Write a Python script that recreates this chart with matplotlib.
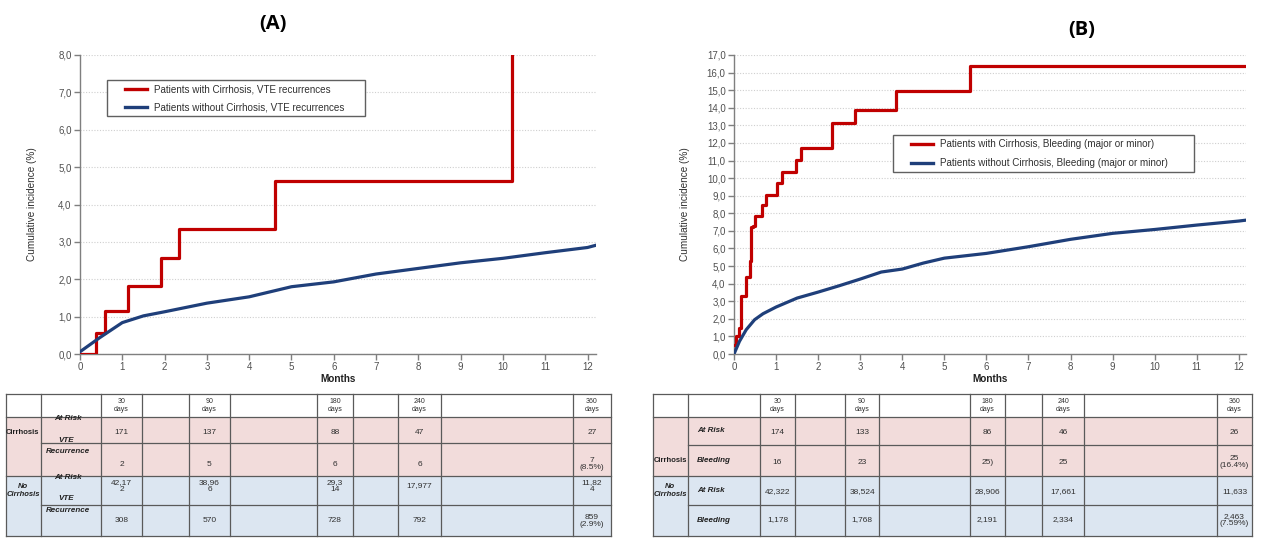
import matplotlib
matplotlib.use("Agg")
import matplotlib.pyplot as plt
from matplotlib.patches import Rectangle
from matplotlib.lines import Line2D
from matplotlib.ticker import FuncFormatter, MultipleLocator

plt.rcParams['font.family'] = ['Liberation Sans', 'DejaVu Sans']

W, H = 1262, 538

# ---------------- data ----------------
# Panel A: VTE recurrences
a_red_t = [0, 0.38, 0.59, 1.14, 1.92, 2.35, 4.62, 10.22]
a_red_v = [0, 0.57, 1.16, 1.82, 2.58, 3.34, 4.64, 8.0]
a_blue_t = [0, 0.47, 1, 1.5, 2, 3, 4, 5, 6, 7, 8, 9, 10, 11, 12, 12.2]
a_blue_v = [0.06, 0.44, 0.84, 1.02, 1.13, 1.36, 1.53, 1.80, 1.93, 2.14, 2.29, 2.44, 2.56, 2.71, 2.85, 2.91]
a_labels = ["Patients with Cirrhosis, VTE recurrences",
            "Patients without Cirrhosis, VTE recurrences"]

# Panel B: Bleeding
b_red_t = [0, 0.05, 0.13, 0.17, 0.29, 0.37, 0.41, 0.45, 0.49, 0.67, 0.77, 1.03, 1.15,
           1.48, 1.60, 2.33, 2.87, 3.84, 5.62, 12.17]
b_red_v = [0.5, 1.0, 1.5, 3.3, 4.4, 5.3, 7.2, 7.3, 7.85, 8.5, 9.05, 9.7, 10.35,
           11.05, 11.7, 13.15, 13.9, 14.95, 16.4, 16.4]
b_blue_t = [0, 0.13, 0.29, 0.49, 0.69, 1.0, 1.5, 2.0, 2.5, 3.0, 3.5, 4.0, 4.5, 5.0,
            6, 7, 8, 9, 10, 11, 12, 12.17]
b_blue_v = [0.0, 0.72, 1.38, 1.95, 2.29, 2.67, 3.18, 3.52, 3.88, 4.26, 4.66, 4.83, 5.17, 5.45,
            5.72, 6.10, 6.52, 6.86, 7.08, 7.33, 7.56, 7.61]
b_labels = ["Patients with Cirrhosis, Bleeding (major or minor)",
            "Patients without Cirrhosis, Bleeding (major or minor)"]

# Tables
day_headers = ["30\ndays", "90\ndays", "180\ndays", "240\ndays", "360\ndays"]
a_table = [["171", "137", "88", "47", "27"],
           ["2", "5", "6", "6", "7\n(8.5%)"],
           ["42,17\n2", "38,96\n6", "29,3\n14", "17,977", "11,82\n4"],
           ["308", "570", "728", "792", "859\n(2.9%)"]]
b_table = [["174", "133", "86", "46", "26"],
           ["16", "23", "25)", "25", "25\n(16.4%)"],
           ["42,322", "38,524", "28,906", "17,661", "11,633"],
           ["1,178", "1,768", "2,191", "2,334", "2,463\n(7.59%)"]]
group_labels = ["Cirrhosis", "No\nCirrhosis"]

RED = "#c00000"
BLUE = "#1f3f7a"
GRAY = "#7f7f7f"

fig = plt.figure(figsize=(W / 100, H / 100), dpi=100)


def px_axes(l, t, r, b):
    return fig.add_axes([l / W, 1 - b / H, (r - l) / W, (b - t) / H])


def style_axes(ax, xmax, ymax, ystep):
    ax.set_xlim(0, xmax)
    ax.set_ylim(0, ymax)
    for s in ["top", "right"]:
        ax.spines[s].set_visible(False)
    for s in ["left", "bottom"]:
        ax.spines[s].set_color(GRAY)
        ax.spines[s].set_linewidth(1.0)
    ax.xaxis.set_major_locator(MultipleLocator(1))
    ax.yaxis.set_major_locator(MultipleLocator(ystep))
    ax.yaxis.set_major_formatter(FuncFormatter(lambda v, p: f"{v:.1f}".replace(".", ",")))
    ax.tick_params(axis="both", direction="out", length=4, width=1, color=GRAY,
                   labelsize=7, labelcolor="#505050", pad=2)
    ax.grid(axis="y", color="#cfcfcf", linestyle=(0, (1, 1.5)), linewidth=0.8)
    ax.set_axisbelow(True)
    ax.set_xlabel("Months", fontsize=7.2, fontweight="bold", color="#202020", labelpad=1)
    ax.set_ylabel("Cumulative incidence (%)", fontsize=7.2, color="#303030")


def manual_legend(x0, y0, x1, y1, labels, colors):
    axl = fig.add_axes([0, 0, 1, 1], facecolor="none")
    axl.set_xlim(0, W)
    axl.set_ylim(H, 0)
    axl.axis("off")
    axl.add_patch(Rectangle((x0, y0), x1 - x0, y1 - y0, facecolor="white",
                            edgecolor="#606060", linewidth=1.0))
    n = len(labels)
    step = (y1 - y0) / n
    for i, (lab, c) in enumerate(zip(labels, colors)):
        yy = y0 + step * (i + 0.5)
        axl.add_line(Line2D([x0 + 18, x0 + 40], [yy, yy], color=c, linewidth=2.4))
        axl.text(x0 + 47, yy, lab, fontsize=7.1, color="#303030", va="center", ha="left")


# ---------------- Panel A ----------------
axA = px_axes(80, 55, 596, 354)
axA.plot(a_red_t, a_red_v, drawstyle="steps-post", color=RED, linewidth=2.3, zorder=3)
axA.plot(a_blue_t, a_blue_v, color=BLUE, linewidth=2.3, zorder=3)
style_axes(axA, 12.2, 8.0, 1.0)
axA.yaxis.set_label_coords(-0.083, 0.5)
manual_legend(107, 80, 365, 116, a_labels, [RED, BLUE])

# ---------------- Panel B ----------------
axB = px_axes(734, 55, 1246, 354)
axB.plot(b_red_t, b_red_v, drawstyle="steps-post", color=RED, linewidth=2.3, zorder=3)
axB.plot(b_blue_t, b_blue_v, color=BLUE, linewidth=2.3, zorder=3)
style_axes(axB, 12.17, 17.0, 1.0)
axB.yaxis.set_label_coords(-0.085, 0.5)
manual_legend(893, 135, 1194, 172, b_labels, [RED, BLUE])

fig.text(273 / W, 1 - 24 / H, "(A)", fontsize=14.5, fontweight="bold", ha="center", va="center",
         family=["Open Sans", "DejaVu Sans"])
fig.text(1082 / W, 1 - 30 / H, "(B)", fontsize=14.5, fontweight="bold", ha="center", va="center",
         family=["Open Sans", "DejaVu Sans"])

# ---------------- Tables ----------------
axT = fig.add_axes([0, 0, 1, 1], facecolor="none")
axT.set_xlim(0, W)
axT.set_ylim(H, 0)
axT.axis("off")

PINK = "#f2dcdb"
LBLUE = "#dce6f1"
LINE = "#5a5a5a"


def draw_table(cols, rows, values, sub_labels, sub_ha, val_y, group_y, group_x):
    x0, x1 = cols[0], cols[-1]
    axT.add_patch(Rectangle((x0, rows[1]), x1 - x0, rows[3] - rows[1], facecolor=PINK, edgecolor="none"))
    axT.add_patch(Rectangle((x0, rows[3]), x1 - x0, rows[5] - rows[3], facecolor=LBLUE, edgecolor="none"))
    for y in [rows[0], rows[1], rows[3], rows[5]]:
        axT.add_line(Line2D([x0, x1], [y, y], color=LINE, linewidth=0.9))
    for y in [rows[2], rows[4]]:
        axT.add_line(Line2D([cols[1], x1], [y, y], color=LINE, linewidth=0.9))
    for x in cols:
        axT.add_line(Line2D([x, x], [rows[0], rows[5]], color=LINE, linewidth=0.9))
    data_cols = [2, 4, 6, 8, 10]
    hy = (rows[0] + rows[1]) / 2
    for j, ci in enumerate(data_cols):
        xc = (cols[ci] + cols[ci + 1]) / 2
        axT.text(xc, hy, day_headers[j], fontsize=5.0, ha="center", va="center",
                 color="#303030", linespacing=1.1)
        for i in range(4):
            axT.text(xc, val_y[i], values[i][j], fontsize=6.0, ha="center", va="center",
                     color="#303030", linespacing=1.05)
    for (txt, x, y) in sub_labels:
        axT.text(x, y, txt, fontsize=5.8, ha=sub_ha, va="center",
                 fontweight="bold", fontstyle="italic", color="#202020")
    axT.text(group_x, group_y[0], group_labels[0], fontsize=5.5, ha="center", va="center",
             fontweight="bold", color="#202020")
    axT.text(group_x, group_y[1], group_labels[1], fontsize=5.5, ha="center", va="center",
             fontweight="bold", fontstyle="italic", color="#202020", linespacing=1.2)


a_cols = [6, 41, 101, 142, 189, 230, 317, 353, 398, 441, 573, 611]
a_rows = [394, 417, 443, 476, 505, 536]
a_sub = [("At Risk", 68, 418), ("VTE", 66, 440), ("Recurrence", 68, 451.5),
         ("At Risk", 68, 477.5), ("VTE", 66, 499), ("Recurrence", 68, 510)]
draw_table(a_cols, a_rows, a_table, a_sub, "center", [433, 464, 486, 521], [432.5, 490], 23)

b_cols = [653, 688, 760, 795, 845, 879, 970, 1005, 1042, 1084, 1217, 1252]
b_rows = [394, 417, 445, 476, 505, 536]
b_sub = [("At Risk", 697, 431), ("Bleeding", 697, 461),
         ("At Risk", 697, 491), ("Bleeding", 697, 520)]
draw_table(b_cols, b_rows, b_table, b_sub, "left", [432, 462, 492, 520], [460, 490], 670)

fig.savefig("out.png", dpi=100, facecolor="white")
